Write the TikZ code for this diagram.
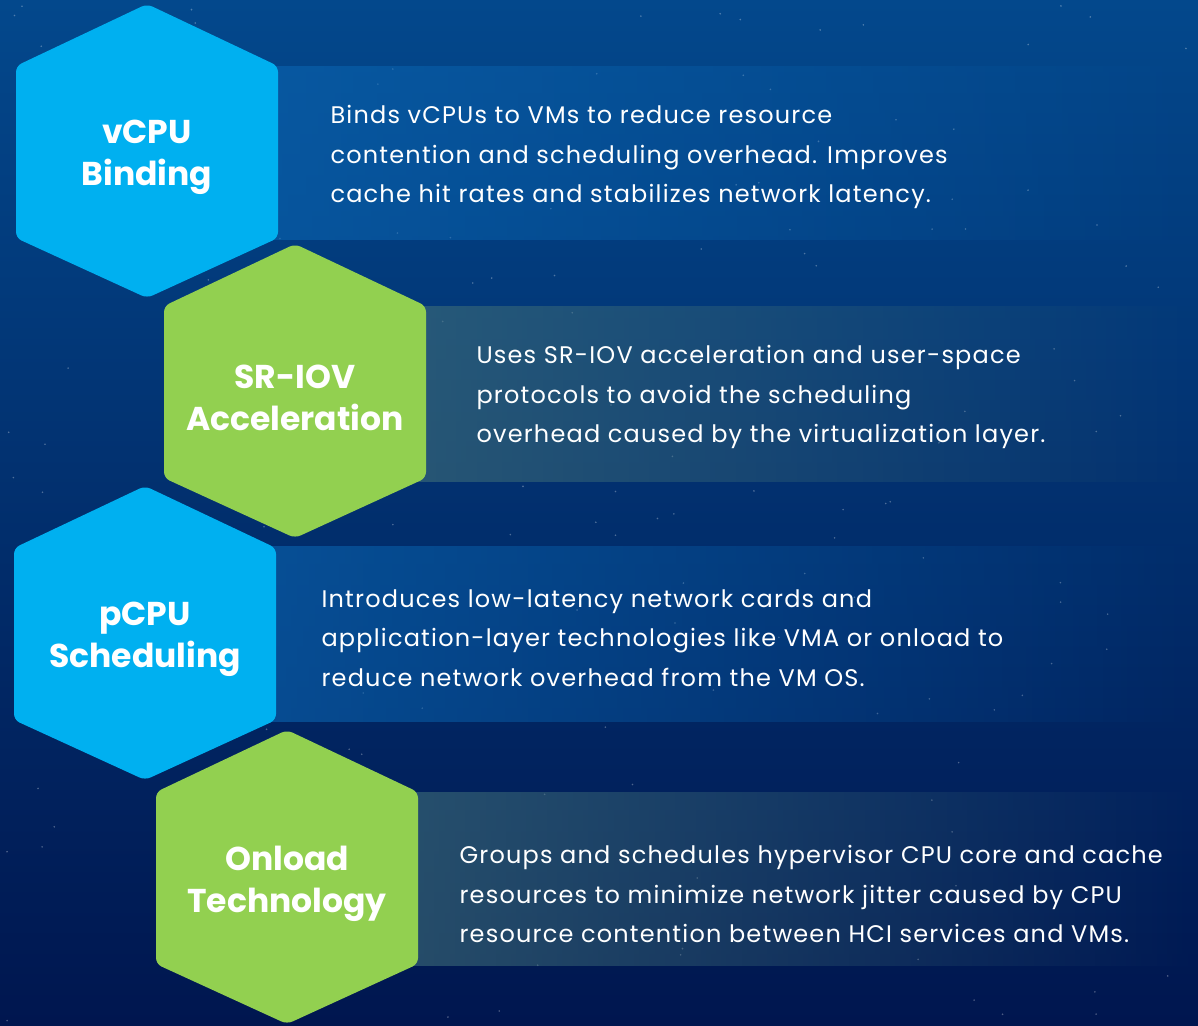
\documentclass[tikz,border=0pt]{standalone}
\usepackage{fontspec}
\setmainfont{Poppins}
\newfontfamily\bodyfont[LetterSpace=5]{Poppins}
\usetikzlibrary{fadings}

\definecolor{bgtop}{HTML}{03488C}
\definecolor{bgbot}{HTML}{00164F}
\definecolor{hexblue}{HTML}{00B0F0}
\definecolor{hexgreen}{HTML}{92D050}
\definecolor{bandblue}{HTML}{0A64B0}
\definecolor{bandgreen}{HTML}{3F6E78}

\tikzfading[name=bandfade, left color=transparent!30, middle color=transparent!50, right color=transparent!100]

\tikzset{
  hexa/.style={rounded corners=6pt},
  title/.style={text=white, font=\bfseries\fontsize{33}{42}\selectfont, align=center},
  desc/.style={text=white, font=\bodyfont\fontsize{24}{39.5}\selectfont, align=left, anchor=west},
}

% hexagon around a centre: #1 = x, #2 = y, #3 = colour
\newcommand{\hexat}[3]{%
  \fill[#3, hexa] (#1,#2-147) -- (#1+131,#2-85) -- (#1+131,#2+87)
    -- (#1,#2+147) -- (#1-131,#2+87) -- (#1-131,#2-85) -- cycle;}

\begin{document}
\begin{tikzpicture}[x=1pt, y=-1pt]
  \useasboundingbox (0,0) rectangle (1198,1025);
  \shade[top color=bgtop, bottom color=bgbot] (0,0) rectangle (1198,1025);

  % stars
  \pgfmathsetseed{11}
  \foreach \i in {1,...,160}
    \fill[white, opacity=.3] ({rnd*1198},{rnd*1025}) circle (0.9);

  % bands
  \fill[bandblue, path fading=bandfade] (148,66) rectangle (1198,240);
  \fill[bandgreen, path fading=bandfade] (295,306) rectangle (1198,482);
  \fill[bandblue, path fading=bandfade] (145,546) rectangle (1198,722);
  \fill[bandgreen, path fading=bandfade] (287,792) rectangle (1198,966);

  % hexagons
  \hexat{147}{151}{hexblue}
  \hexat{295}{391}{hexgreen}
  \hexat{145}{633}{hexblue}
  \hexat{287}{877}{hexgreen}

  \node[title] (t1) at (147,157) {vCPU\\Binding};
  \node[title] (t2) at (295,398) {SR-IOV\\Acceleration};
  \node[title] (t3) at (145,639) {pCPU\\Scheduling};
  \node[title] (t4) at (287,884) {Onload\\Technology};

  \node[desc] (d1) at (327,157) {Binds vCPUs to VMs to reduce resource\\contention and scheduling overhead. Improves\\cache hit rates and stabilizes network latency.};
  \node[desc] (d2) at (473,397) {Uses SR-IOV acceleration and user-space\\protocols to avoid the scheduling\\overhead caused by the virtualization layer.};
  \node[desc] (d3) at (318,638) {Introduces low-latency network cards and\\application-layer technologies like VMA or onload to\\reduce network overhead from the VM OS.};
  \node[desc] (d4) at (456,894) {Groups and schedules hypervisor CPU core and cache\\resources to minimize network jitter caused by CPU\\resource contention between HCI services and VMs.};
\end{tikzpicture}
\end{document}
